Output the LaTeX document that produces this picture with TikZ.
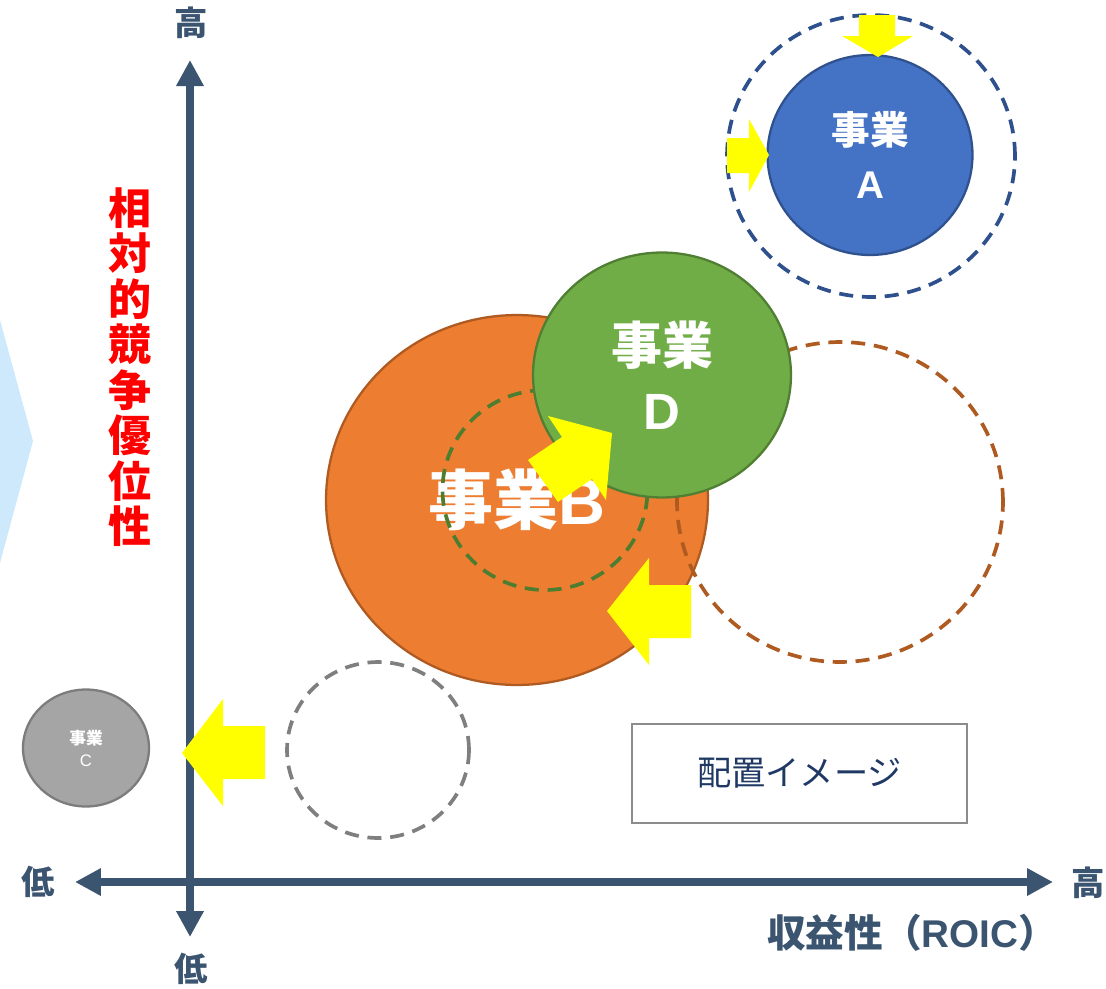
\documentclass[tikz,border=0pt]{standalone}
\usepackage{fontspec}
\setmainfont{Noto Sans CJK JP}
\newfontfamily\lat{Liberation Sans}
\usetikzlibrary{arrows.meta,shapes.geometric}
\definecolor{axiscol}{RGB}{59,84,112}
\definecolor{Afill}{RGB}{68,114,196}
\definecolor{Aedge}{RGB}{47,82,143}
\definecolor{Aring}{RGB}{46,80,140}
\definecolor{Bfill}{RGB}{237,125,49}
\definecolor{Bedge}{RGB}{174,90,33}
\definecolor{Dfill}{RGB}{112,173,71}
\definecolor{Dedge}{RGB}{80,126,50}
\definecolor{Dring}{RGB}{78,125,47}
\definecolor{Cfill}{RGB}{165,165,165}
\definecolor{Cedge}{RGB}{124,124,124}
\definecolor{grayring}{RGB}{127,127,127}
\definecolor{chevron}{RGB}{205,233,251}
\definecolor{boxtext}{RGB}{31,56,100}
\definecolor{boxedge}{RGB}{140,140,140}
\definecolor{yel}{RGB}{255,255,0}
\tikzset{
  axisline/.style={draw=axiscol, line width=0.17cm,
    {Triangle[width=0.52cm,length=0.52cm]}-{Triangle[width=0.52cm,length=0.52cm]}},
  bubble/.style={ellipse, inner sep=0pt, line width=1.3pt, text=white, align=center},
  dashring/.style={ellipse, inner sep=0pt, line width=2.1pt, dash pattern=on 8pt off 5pt},
  yarrow/.style={fill=yel, draw=none},
  axislabel/.style={text=axiscol, font=\bfseries\fontsize{19pt}{19pt}\selectfont, inner sep=0pt}
}
\begin{document}
\begin{tikzpicture}[x=0.02cm, y=-0.02cm]
\useasboundingbox (0,0) rectangle (1106,988);
% light blue chevron tip at left edge
\fill[chevron] (0,320) -- (33,441) -- (0,563) -- cycle;
% axes
\coordinate (ytop) at (190,60);
\coordinate (ybot) at (190,937);
\coordinate (xleft) at (75,882);
\coordinate (xright) at (1053,882);
\draw[axisline] (ybot) -- (ytop);
\draw[axisline] (xleft) -- (xright);
\node[axislabel] (yhigh) at (191,23) {高};
\node[axislabel] (ylow) at (191,969) {低};
\node[axislabel] (xlow) at (38,882) {低};
\node[axislabel] (xhigh) at (1088,883) {高};
\node[text=axiscol, font=\bfseries\fontsize{22pt}{22pt}\selectfont, inner sep=0pt] (xtitle) at (912,933) {収益性（{\lat ROIC}）};
\node[text=red, align=center, font=\bfseries\fontsize{24.5pt}{25.9pt}\selectfont, inner sep=0pt] (ytitle) at (130,367)
  {相\\対\\的\\競\\争\\優\\位\\性};
% business C and its former position
\node[dashring, draw=grayring, minimum width=3.64cm, minimum height=3.52cm] (ringC) at (378,750) {};
\node[bubble, fill=Cfill, draw=Cedge, minimum width=2.52cm, minimum height=2.34cm,
  font=\fontsize{9.5pt}{12.5pt}\selectfont] (C) at (86,748) {\bfseries 事業\\{\lat C}};
\fill[yarrow] (265,726) -- (223,726) -- (223,699) -- (182,753) -- (223,806) -- (223,779) -- (265,779) -- cycle;
% business B
\node[bubble, fill=Bfill, draw=Bedge, minimum width=7.64cm, minimum height=7.40cm,
  font=\bfseries\fontsize{37pt}{37pt}\selectfont] (B) at (517,500) {事業{\lat B}};
\node[dashring, draw=Bedge, minimum width=6.52cm, minimum height=6.40cm] (ringB) at (840,502) {};
\node[dashring, draw=Dring, minimum width=4.10cm, minimum height=4.00cm] (ringD) at (545,490) {};
% business D
\node[bubble, fill=Dfill, draw=Dedge, minimum width=5.16cm, minimum height=4.90cm,
  font=\bfseries\fontsize{29pt}{37pt}\selectfont] (D) at (662,375) {事業\\{\lat D}};
\fill[yarrow] (528,460) -- (562,437) -- (548,416) -- (612,433) -- (606,500) -- (592,479) -- (558,502) -- cycle;
\fill[yarrow] (691,585) -- (649,585) -- (649,558) -- (607,611) -- (649,665) -- (649,638) -- (691,638) -- cycle;
% business A
\node[dashring, draw=Aring, minimum width=5.76cm, minimum height=5.64cm] (ringA) at (871,156) {};
\node[bubble, fill=Afill, draw=Aedge, minimum width=4.10cm, minimum height=4.00cm,
  font=\bfseries\fontsize{22pt}{30.6pt}\selectfont] (A) at (870,155) {事業\\{\lat A}};
\fill[yarrow] (859,15) -- (895,15) -- (895,36) -- (913,36) -- (878,57) -- (842,36) -- (859,36) -- cycle;
\fill[yarrow] (727,138) -- (749,138) -- (749,119) -- (769,155) -- (749,192) -- (749,173) -- (727,173) -- cycle;
% legend box
\node[draw=boxedge, line width=1.3pt, minimum width=6.70cm, minimum height=1.98cm, text=boxtext,
  font=\fontsize{19.5pt}{19.5pt}\selectfont] (box) at (799.5,773.5) {配置イメージ};
\end{tikzpicture}
\end{document}
